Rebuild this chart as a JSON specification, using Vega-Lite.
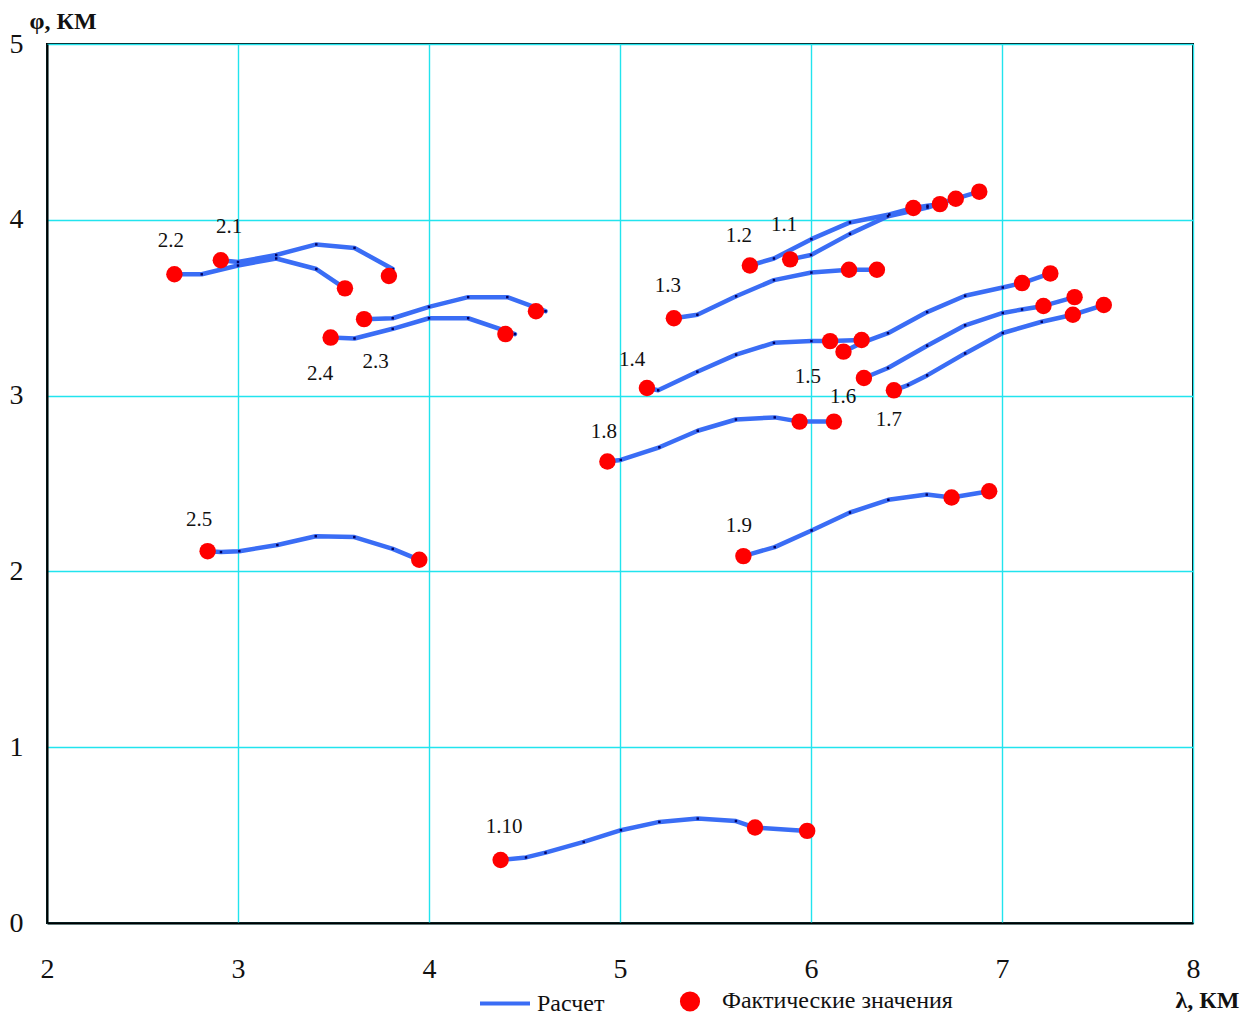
{
  "$schema": "https://vega.github.io/schema/vega-lite/v6.json",
  "width": 1146,
  "height": 879,
  "autosize": {"type": "none"},
  "padding": {"left": 47, "top": 44, "right": 53, "bottom": 91},
  "background": "white",
  "config": {
    "view": {"stroke": "black", "strokeWidth": 2},
    "font": "Liberation Serif",
    "axis": {
      "labelFont": "Liberation Serif",
      "titleFont": "Liberation Serif",
      "labelColor": "#111",
      "titleColor": "#111",
      "gridColor": "#22e4ee",
      "gridWidth": 1.4,
      "gridOpacity": 1,
      "domainColor": "black",
      "domainWidth": 2,
      "ticks": false
    }
  },
  "datasets": {
    "lines": [
      {"track": "2.1", "i": 1, "x": 2.91, "y": 3.77},
      {"track": "2.1", "i": 2, "x": 3.0, "y": 3.76},
      {"track": "2.1", "i": 3, "x": 3.2, "y": 3.8},
      {"track": "2.1", "i": 4, "x": 3.41, "y": 3.86},
      {"track": "2.1", "i": 5, "x": 3.61, "y": 3.84},
      {"track": "2.1", "i": 6, "x": 3.81, "y": 3.72},
      {"track": "2.2", "i": 1, "x": 2.667, "y": 3.69},
      {"track": "2.2", "i": 2, "x": 2.81, "y": 3.69},
      {"track": "2.2", "i": 3, "x": 3.0, "y": 3.74},
      {"track": "2.2", "i": 4, "x": 3.2, "y": 3.78},
      {"track": "2.2", "i": 5, "x": 3.41, "y": 3.72},
      {"track": "2.2", "i": 6, "x": 3.56, "y": 3.61},
      {"track": "2.3", "i": 1, "x": 3.66, "y": 3.435},
      {"track": "2.3", "i": 2, "x": 3.81, "y": 3.44},
      {"track": "2.3", "i": 3, "x": 4.0, "y": 3.505},
      {"track": "2.3", "i": 4, "x": 4.205, "y": 3.56},
      {"track": "2.3", "i": 5, "x": 4.41, "y": 3.56},
      {"track": "2.3", "i": 6, "x": 4.61, "y": 3.48},
      {"track": "2.4", "i": 1, "x": 3.485, "y": 3.33},
      {"track": "2.4", "i": 2, "x": 3.61, "y": 3.325},
      {"track": "2.4", "i": 3, "x": 3.81, "y": 3.38},
      {"track": "2.4", "i": 4, "x": 4.0, "y": 3.44},
      {"track": "2.4", "i": 5, "x": 4.205, "y": 3.44},
      {"track": "2.4", "i": 6, "x": 4.45, "y": 3.35},
      {"track": "2.5", "i": 1, "x": 2.841, "y": 2.115},
      {"track": "2.5", "i": 2, "x": 2.911, "y": 2.11},
      {"track": "2.5", "i": 3, "x": 3.007, "y": 2.115},
      {"track": "2.5", "i": 4, "x": 3.206, "y": 2.15},
      {"track": "2.5", "i": 5, "x": 3.407, "y": 2.2},
      {"track": "2.5", "i": 6, "x": 3.609, "y": 2.195},
      {"track": "2.5", "i": 7, "x": 3.81, "y": 2.128},
      {"track": "2.5", "i": 8, "x": 3.949, "y": 2.066},
      {"track": "1.1", "i": 1, "x": 5.891, "y": 3.775},
      {"track": "1.1", "i": 2, "x": 6.0, "y": 3.8},
      {"track": "1.1", "i": 3, "x": 6.204, "y": 3.92},
      {"track": "1.1", "i": 4, "x": 6.403, "y": 4.02},
      {"track": "1.1", "i": 5, "x": 6.61, "y": 4.07},
      {"track": "1.1", "i": 6, "x": 6.758, "y": 4.12},
      {"track": "1.1", "i": 7, "x": 6.881, "y": 4.16},
      {"track": "1.2", "i": 1, "x": 5.68, "y": 3.74},
      {"track": "1.2", "i": 2, "x": 5.806, "y": 3.78},
      {"track": "1.2", "i": 3, "x": 6.002, "y": 3.89},
      {"track": "1.2", "i": 4, "x": 6.204, "y": 3.985},
      {"track": "1.2", "i": 5, "x": 6.41, "y": 4.03},
      {"track": "1.2", "i": 6, "x": 6.536, "y": 4.067},
      {"track": "1.2", "i": 7, "x": 6.61, "y": 4.08},
      {"track": "1.2", "i": 8, "x": 6.675, "y": 4.089},
      {"track": "1.3", "i": 1, "x": 5.282, "y": 3.44},
      {"track": "1.3", "i": 2, "x": 5.405, "y": 3.46},
      {"track": "1.3", "i": 3, "x": 5.608, "y": 3.565},
      {"track": "1.3", "i": 4, "x": 5.806, "y": 3.657},
      {"track": "1.3", "i": 5, "x": 6.002, "y": 3.7},
      {"track": "1.3", "i": 6, "x": 6.199, "y": 3.716},
      {"track": "1.3", "i": 7, "x": 6.345, "y": 3.716},
      {"track": "1.4", "i": 1, "x": 5.141, "y": 3.043},
      {"track": "1.4", "i": 2, "x": 5.2, "y": 3.03},
      {"track": "1.4", "i": 3, "x": 5.405, "y": 3.136},
      {"track": "1.4", "i": 4, "x": 5.608, "y": 3.233},
      {"track": "1.4", "i": 5, "x": 5.806, "y": 3.3},
      {"track": "1.4", "i": 6, "x": 6.002, "y": 3.31},
      {"track": "1.4", "i": 7, "x": 6.1, "y": 3.31},
      {"track": "1.4", "i": 8, "x": 6.265, "y": 3.316},
      {"track": "1.5", "i": 1, "x": 6.17, "y": 3.25},
      {"track": "1.5", "i": 2, "x": 6.265, "y": 3.3},
      {"track": "1.5", "i": 3, "x": 6.403, "y": 3.355},
      {"track": "1.5", "i": 4, "x": 6.608, "y": 3.475},
      {"track": "1.5", "i": 5, "x": 6.807, "y": 3.568},
      {"track": "1.5", "i": 6, "x": 7.004, "y": 3.615},
      {"track": "1.5", "i": 7, "x": 7.105, "y": 3.64},
      {"track": "1.5", "i": 8, "x": 7.253, "y": 3.695},
      {"track": "1.6", "i": 1, "x": 6.277, "y": 3.1},
      {"track": "1.6", "i": 2, "x": 6.403, "y": 3.157},
      {"track": "1.6", "i": 3, "x": 6.608, "y": 3.284},
      {"track": "1.6", "i": 4, "x": 6.807, "y": 3.4},
      {"track": "1.6", "i": 5, "x": 7.004, "y": 3.47},
      {"track": "1.6", "i": 6, "x": 7.105, "y": 3.49},
      {"track": "1.6", "i": 7, "x": 7.217, "y": 3.51},
      {"track": "1.6", "i": 8, "x": 7.38, "y": 3.56},
      {"track": "1.7", "i": 1, "x": 6.434, "y": 3.03},
      {"track": "1.7", "i": 2, "x": 6.508, "y": 3.06},
      {"track": "1.7", "i": 3, "x": 6.608, "y": 3.115},
      {"track": "1.7", "i": 4, "x": 6.807, "y": 3.24},
      {"track": "1.7", "i": 5, "x": 7.004, "y": 3.356},
      {"track": "1.7", "i": 6, "x": 7.208, "y": 3.42},
      {"track": "1.7", "i": 7, "x": 7.371, "y": 3.46},
      {"track": "1.7", "i": 8, "x": 7.533, "y": 3.515},
      {"track": "1.8", "i": 1, "x": 4.934, "y": 2.625},
      {"track": "1.8", "i": 2, "x": 5.004, "y": 2.634},
      {"track": "1.8", "i": 3, "x": 5.206, "y": 2.706},
      {"track": "1.8", "i": 4, "x": 5.407, "y": 2.8},
      {"track": "1.8", "i": 5, "x": 5.607, "y": 2.864},
      {"track": "1.8", "i": 6, "x": 5.81, "y": 2.876},
      {"track": "1.8", "i": 7, "x": 5.94, "y": 2.852},
      {"track": "1.8", "i": 8, "x": 6.12, "y": 2.852},
      {"track": "1.9", "i": 1, "x": 5.646, "y": 2.087},
      {"track": "1.9", "i": 2, "x": 5.81, "y": 2.138},
      {"track": "1.9", "i": 3, "x": 6.003, "y": 2.233},
      {"track": "1.9", "i": 4, "x": 6.204, "y": 2.335},
      {"track": "1.9", "i": 5, "x": 6.405, "y": 2.407},
      {"track": "1.9", "i": 6, "x": 6.606, "y": 2.437},
      {"track": "1.9", "i": 7, "x": 6.736, "y": 2.42},
      {"track": "1.9", "i": 8, "x": 6.933, "y": 2.456},
      {"track": "1.10", "i": 1, "x": 4.375, "y": 0.358},
      {"track": "1.10", "i": 2, "x": 4.508, "y": 0.373},
      {"track": "1.10", "i": 3, "x": 4.61, "y": 0.4},
      {"track": "1.10", "i": 4, "x": 4.81, "y": 0.461},
      {"track": "1.10", "i": 5, "x": 5.005, "y": 0.528},
      {"track": "1.10", "i": 6, "x": 5.206, "y": 0.575},
      {"track": "1.10", "i": 7, "x": 5.407, "y": 0.594},
      {"track": "1.10", "i": 8, "x": 5.607, "y": 0.58},
      {"track": "1.10", "i": 9, "x": 5.707, "y": 0.543},
      {"track": "1.10", "i": 10, "x": 5.98, "y": 0.524}
    ],
    "dots": [
      {"x": 2.91, "y": 3.77}, {"x": 3.79, "y": 3.68},
      {"x": 2.667, "y": 3.69}, {"x": 3.56, "y": 3.61},
      {"x": 3.66, "y": 3.435}, {"x": 4.56, "y": 3.48},
      {"x": 3.485, "y": 3.33}, {"x": 4.4, "y": 3.35},
      {"x": 2.841, "y": 2.115}, {"x": 3.949, "y": 2.066},
      {"x": 5.891, "y": 3.775}, {"x": 6.758, "y": 4.12}, {"x": 6.881, "y": 4.16},
      {"x": 5.68, "y": 3.74}, {"x": 6.536, "y": 4.067}, {"x": 6.675, "y": 4.089},
      {"x": 5.282, "y": 3.44}, {"x": 6.199, "y": 3.716}, {"x": 6.345, "y": 3.716},
      {"x": 5.141, "y": 3.043}, {"x": 6.1, "y": 3.31}, {"x": 6.265, "y": 3.316},
      {"x": 6.17, "y": 3.25}, {"x": 7.105, "y": 3.64}, {"x": 7.253, "y": 3.695},
      {"x": 6.277, "y": 3.1}, {"x": 7.217, "y": 3.51}, {"x": 7.38, "y": 3.56},
      {"x": 6.434, "y": 3.03}, {"x": 7.371, "y": 3.46}, {"x": 7.533, "y": 3.515},
      {"x": 4.934, "y": 2.625}, {"x": 5.94, "y": 2.852}, {"x": 6.12, "y": 2.852},
      {"x": 5.646, "y": 2.087}, {"x": 6.736, "y": 2.42}, {"x": 6.933, "y": 2.456},
      {"x": 4.375, "y": 0.358}, {"x": 5.707, "y": 0.543}, {"x": 5.98, "y": 0.524}
    ],
    "labels": [
      {"text": "2.2", "x": 2.649, "y": 3.88},
      {"text": "2.1", "x": 2.953, "y": 3.96},
      {"text": "2.4", "x": 3.43, "y": 3.125},
      {"text": "2.3", "x": 3.72, "y": 3.19},
      {"text": "1.2", "x": 5.623, "y": 3.91},
      {"text": "1.1", "x": 5.859, "y": 3.97},
      {"text": "1.3", "x": 5.25, "y": 3.625},
      {"text": "1.4", "x": 5.063, "y": 3.2},
      {"text": "1.5", "x": 5.984, "y": 3.108},
      {"text": "1.6", "x": 6.168, "y": 2.99},
      {"text": "1.7", "x": 6.408, "y": 2.864},
      {"text": "1.8", "x": 4.916, "y": 2.795},
      {"text": "1.9", "x": 5.623, "y": 2.256},
      {"text": "2.5", "x": 2.796, "y": 2.29},
      {"text": "1.10", "x": 4.393, "y": 0.545}
    ]
  },
  "layer": [
    {
      "data": {"name": "lines"},
      "mark": {"type": "line", "strokeWidth": 4.5, "strokeCap": "round", "strokeJoin": "round"},
      "encoding": {
        "x": {
          "field": "x", "type": "quantitative",
          "scale": {"domain": [2, 8], "nice": false, "zero": false},
          "axis": {
            "values": [2, 3, 4, 5, 6, 7, 8],
            "format": "d",
            "grid": true,
            "labelFontSize": 28,
            "labelPadding": 32,
            "labelFlush": false,
            "title": "λ, КМ",
            "titleFontSize": 24,
            "titleFontWeight": "bold",
            "titleAnchor": "start",
            "titleAlign": "left",
            "titleBaseline": "middle",
            "titleX": 1128,
            "titleY": 77
          }
        },
        "y": {
          "field": "y", "type": "quantitative",
          "scale": {"domain": [0, 5], "nice": false},
          "axis": {
            "values": [0, 1, 2, 3, 4, 5],
            "format": "d",
            "grid": true,
            "labelFontSize": 28,
            "labelPadding": 24,
            "labelFlush": false,
            "title": "φ, КМ",
            "titleFontSize": 24,
            "titleFontWeight": "bold",
            "titleAngle": 0,
            "titleAnchor": "start",
            "titleAlign": "left",
            "titleBaseline": "middle",
            "titleX": -18,
            "titleY": -23
          }
        },
        "detail": {"field": "track"},
        "order": {"field": "i"},
        "color": {
          "datum": "Расчет",
          "type": "nominal",
          "scale": {"domain": ["Расчет", "Фактические значения"], "range": ["#3a6df5", "#ff0000"]},
          "legend": {
            "title": null,
            "orient": "none",
            "direction": "horizontal",
            "legendX": 433,
            "legendY": 945,
            "symbolStrokeWidth": 4,
            "labelFont": "Liberation Serif",
            "labelFontSize": 24,
            "labelColor": "#111",
            "labelLimit": 0,
            "columnPadding": 68,
            "encode": {
              "symbols": {
                "update": {
                  "shape": {"signal": "datum.value === 'Расчет' ? 'stroke' : 'circle'"},
                  "size": {"signal": "datum.value === 'Расчет' ? 2500 : 260"},
                  "x": {"signal": "datum.value === 'Расчет' ? 25 : 10"},
                  "stroke": {"signal": "datum.value === 'Расчет' ? '#3a6df5' : 'transparent'"},
                  "fill": {"signal": "datum.value === 'Расчет' ? 'transparent' : '#ff0000'"},
                  "strokeWidth": {"value": 4}
                }
              },
              "labels": {
                "update": {
                  "x": {"signal": "datum.value === 'Расчет' ? 57 : 42"}
                }
              }
            }
          }
        }
      }
    },
    {
      "data": {"name": "lines"},
      "mark": {"type": "point", "shape": "square", "filled": true, "size": 6, "color": "#000060", "opacity": 1},
      "encoding": {
        "x": {"field": "x", "type": "quantitative"},
        "y": {"field": "y", "type": "quantitative"}
      }
    },
    {
      "data": {"name": "dots"},
      "mark": {"type": "point", "shape": "circle", "filled": true, "size": 270, "opacity": 1},
      "encoding": {
        "x": {"field": "x", "type": "quantitative"},
        "y": {"field": "y", "type": "quantitative"},
        "color": {"datum": "Фактические значения", "type": "nominal"}
      }
    },
    {
      "data": {"name": "labels"},
      "mark": {"type": "text", "font": "Liberation Serif", "fontSize": 21, "color": "#111", "align": "center", "baseline": "middle"},
      "encoding": {
        "x": {"field": "x", "type": "quantitative"},
        "y": {"field": "y", "type": "quantitative"},
        "text": {"field": "text"}
      }
    }
  ]
}
